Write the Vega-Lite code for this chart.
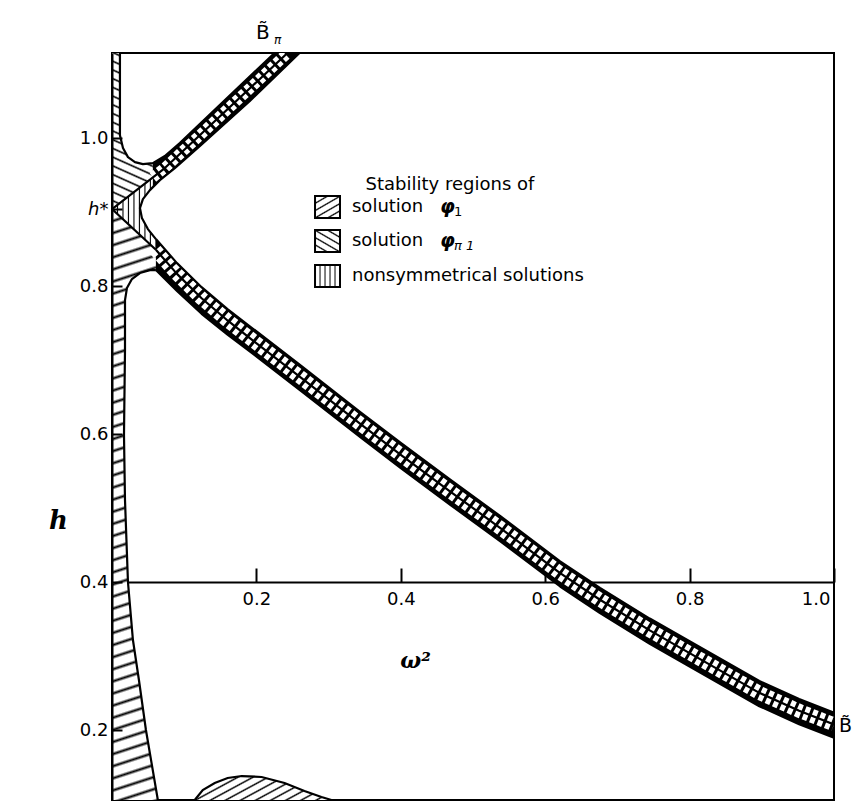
{
  "$schema": "https://vega.github.io/schema/vega-lite/v6.json",
  "width": 722,
  "height": 747,
  "autosize": {"type": "none"},
  "padding": {"left": 112, "top": 53, "right": 24, "bottom": 3},
  "background": "#ffffff",
  "config": {
    "view": {"stroke": "#000000", "strokeWidth": 2},
    "axis": {"grid": false, "domainColor": "#000", "domainWidth": 2, "tickColor": "#000", "tickWidth": 2, "labelColor": "#000", "labelFont": "DejaVu Sans", "labelFontSize": 18, "titleColor": "#000", "labelOverlap": false},
    "text": {"font": "DejaVu Sans", "color": "#000"}
  },
  "datasets": {
    "phiPiLeft": [
      {"i": 1, "w": 0, "h": 1.115},
      {"i": 2, "w": 0, "h": 0.904},
      {"i": 3, "w": 0.0566, "h": 0.9469},
      {"i": 4, "w": 0.0566, "h": 0.9662},
      {"i": 5, "w": 0.0428, "h": 0.9649},
      {"i": 6, "w": 0.0318, "h": 0.9676},
      {"i": 7, "w": 0.0221, "h": 0.9743},
      {"i": 8, "w": 0.0152, "h": 0.9865},
      {"i": 9, "w": 0.011, "h": 1.004},
      {"i": 10, "w": 0.011, "h": 1.115}
    ],
    "nonsymWedge": [
      {"i": 1, "w": 0, "h": 0.904},
      {"i": 2, "w": 0.0566, "h": 0.9469},
      {"i": 3, "w": 0.0566, "h": 0.9337},
      {"i": 4, "w": 0.0525, "h": 0.9297},
      {"i": 5, "w": 0.0428, "h": 0.9176},
      {"i": 6, "w": 0.0387, "h": 0.9054},
      {"i": 7, "w": 0.0414, "h": 0.8919},
      {"i": 8, "w": 0.0497, "h": 0.877},
      {"i": 9, "w": 0.0608, "h": 0.8635},
      {"i": 10, "w": 0.0608, "h": 0.849}
    ],
    "phi1Left": [
      {"i": 1, "w": 0, "h": 0.904},
      {"i": 2, "w": 0.0608, "h": 0.849},
      {"i": 3, "w": 0.0608, "h": 0.8216},
      {"i": 4, "w": 0.0525, "h": 0.8216},
      {"i": 5, "w": 0.0387, "h": 0.8176},
      {"i": 6, "w": 0.0276, "h": 0.8095},
      {"i": 7, "w": 0.0207, "h": 0.7973},
      {"i": 8, "w": 0.018, "h": 0.7811},
      {"i": 9, "w": 0.018, "h": 0.7135},
      {"i": 10, "w": 0.0166, "h": 0.5986},
      {"i": 11, "w": 0.018, "h": 0.5108},
      {"i": 12, "w": 0.0221, "h": 0.4},
      {"i": 13, "w": 0.029, "h": 0.3216},
      {"i": 14, "w": 0.0373, "h": 0.2676},
      {"i": 15, "w": 0.047, "h": 0.2},
      {"i": 16, "w": 0.0635, "h": 0.1054},
      {"i": 17, "w": 0, "h": 0.1054}
    ],
    "phi1Hump": [
      {"w": 0.1146, "h": 0.1054},
      {"w": 0.1257, "h": 0.1189},
      {"w": 0.1423, "h": 0.1284},
      {"w": 0.1602, "h": 0.1351},
      {"w": 0.1796, "h": 0.1378},
      {"w": 0.2072, "h": 0.1365},
      {"w": 0.239, "h": 0.1284},
      {"w": 0.2666, "h": 0.1176},
      {"w": 0.2901, "h": 0.1095},
      {"w": 0.3039, "h": 0.1054}
    ],
    "upperBranch": [
      {"w": 0.0566, "a": 0.9662, "c": 0.9337},
      {"w": 0.0663, "a": 0.9717, "c": 0.9432},
      {"w": 0.0732, "a": 0.9757, "c": 0.9486},
      {"w": 0.087, "a": 0.9873, "c": 0.9595},
      {"w": 0.0939, "a": 0.9932, "c": 0.9654},
      {"w": 0.1215, "a": 1.0188, "c": 0.9892},
      {"w": 0.1906, "a": 1.0829, "c": 1.05},
      {"w": 0.2251, "a": 1.115, "c": 1.0825},
      {"w": 0.2597, "a": 1.115, "c": 1.115}
    ],
    "lowerBranch": [
      {"w": 0.0608, "c": 0.8635, "d": 0.849, "b": 0.8216},
      {"w": 0.09, "c": 0.831, "d": 0.8165, "b": 0.7935},
      {"w": 0.1241, "c": 0.7985, "d": 0.7835, "b": 0.7625},
      {"w": 0.16, "c": 0.769, "d": 0.7535, "b": 0.7345},
      {"w": 0.1931, "c": 0.744, "d": 0.728, "b": 0.71},
      {"w": 0.2621, "c": 0.692, "d": 0.676, "b": 0.658},
      {"w": 0.3448, "c": 0.629, "d": 0.613, "b": 0.595},
      {"w": 0.4, "c": 0.588, "d": 0.572, "b": 0.554},
      {"w": 0.469, "c": 0.538, "d": 0.522, "b": 0.504},
      {"w": 0.5379, "c": 0.489, "d": 0.473, "b": 0.455},
      {"w": 0.6207, "c": 0.428, "d": 0.412, "b": 0.394},
      {"w": 0.6759, "c": 0.392, "d": 0.376, "b": 0.358},
      {"w": 0.7448, "c": 0.3506, "d": 0.3346, "b": 0.3166},
      {"w": 0.8, "c": 0.3199, "d": 0.3039, "b": 0.2859},
      {"w": 0.8966, "c": 0.2662, "d": 0.2502, "b": 0.2322},
      {"w": 0.9517, "c": 0.2419, "d": 0.2259, "b": 0.2079},
      {"w": 1.0, "c": 0.2235, "d": 0.2075, "b": 0.1895}
    ],
    "divider1": [
      {"i": 1, "w": 0, "h": 0.904},
      {"i": 2, "w": 0.0566, "h": 0.9469},
      {"i": 3, "w": 0.0732, "h": 0.9595},
      {"i": 4, "w": 0.2431, "h": 1.115}
    ],
    "boundaries": [
      {"curve": "A", "i": 1, "w": 0.011, "h": 1.115},
      {"curve": "A", "i": 2, "w": 0.011, "h": 1.004},
      {"curve": "A", "i": 3, "w": 0.0152, "h": 0.9865},
      {"curve": "A", "i": 4, "w": 0.0221, "h": 0.9743},
      {"curve": "A", "i": 5, "w": 0.0318, "h": 0.9676},
      {"curve": "A", "i": 6, "w": 0.0428, "h": 0.9649},
      {"curve": "A", "i": 7, "w": 0.0566, "h": 0.9662},
      {"curve": "A", "i": 8, "w": 0.0732, "h": 0.9757},
      {"curve": "A", "i": 9, "w": 0.0939, "h": 0.9932},
      {"curve": "A", "i": 10, "w": 0.2251, "h": 1.115},
      {"curve": "C", "i": 1, "w": 0.2597, "h": 1.115},
      {"curve": "C", "i": 2, "w": 0.1906, "h": 1.05},
      {"curve": "C", "i": 3, "w": 0.1215, "h": 0.9892},
      {"curve": "C", "i": 4, "w": 0.087, "h": 0.9595},
      {"curve": "C", "i": 5, "w": 0.0663, "h": 0.9432},
      {"curve": "C", "i": 6, "w": 0.0525, "h": 0.9297},
      {"curve": "C", "i": 7, "w": 0.0428, "h": 0.9176},
      {"curve": "C", "i": 8, "w": 0.0387, "h": 0.9054},
      {"curve": "C", "i": 9, "w": 0.0414, "h": 0.8919},
      {"curve": "C", "i": 10, "w": 0.0497, "h": 0.877},
      {"curve": "C", "i": 11, "w": 0.0608, "h": 0.8635},
      {"curve": "B", "i": 1, "w": 0.0635, "h": 0.1054},
      {"curve": "B", "i": 2, "w": 0.047, "h": 0.2},
      {"curve": "B", "i": 3, "w": 0.0373, "h": 0.2676},
      {"curve": "B", "i": 4, "w": 0.029, "h": 0.3216},
      {"curve": "B", "i": 5, "w": 0.0221, "h": 0.4},
      {"curve": "B", "i": 6, "w": 0.018, "h": 0.5108},
      {"curve": "B", "i": 7, "w": 0.0166, "h": 0.5986},
      {"curve": "B", "i": 8, "w": 0.018, "h": 0.7135},
      {"curve": "B", "i": 9, "w": 0.018, "h": 0.7811},
      {"curve": "B", "i": 10, "w": 0.0207, "h": 0.7973},
      {"curve": "B", "i": 11, "w": 0.0276, "h": 0.8095},
      {"curve": "B", "i": 12, "w": 0.0387, "h": 0.8176},
      {"curve": "B", "i": 13, "w": 0.0525, "h": 0.8216},
      {"curve": "B", "i": 14, "w": 0.0608, "h": 0.8216},
      {"curve": "D1", "i": 1, "w": 0, "h": 0.904},
      {"curve": "D1", "i": 2, "w": 0.0732, "h": 0.9595},
      {"curve": "D1", "i": 3, "w": 0.2431, "h": 1.115},
      {"curve": "D2", "i": 1, "w": 0, "h": 0.904},
      {"curve": "D2", "i": 2, "w": 0.0608, "h": 0.849}
    ]
  },
  "layer": [
    {
      "encoding": {
        "x": {
          "field": "w", "type": "quantitative",
          "scale": {"domain": [0, 1.0], "nice": false, "zero": false},
          "axis": {
            "orient": "bottom", "offset": -218,
            "values": [0.2, 0.4, 0.6, 0.8, 1.0], "format": ".1f",
            "tickSize": -14, "labelPadding": 22, "labelFlush": 5, "labelFlushOffset": -4,
            "title": "ω²", "titleFont": "DejaVu Serif", "titleFontSize": 22, "titleFontStyle": "italic", "titleFontWeight": "bold",
            "titleX": 303, "titleY": 78, "titleAlign": "center", "titleBaseline": "middle",
            "zindex": 0
          }
        },
        "y": {
          "field": "h", "type": "quantitative",
          "scale": {"domain": [0.1054, 1.115], "nice": false, "zero": false},
          "axis": {
            "orient": "left",
            "values": [0.2, 0.4, 0.6, 0.8, 0.904, 1.0],
            "labelExpr": "datum.value == 0.904 ? 'h*' : format(datum.value, '.1f')",
            "labelFontStyle": {"condition": {"test": "datum.value == 0.904", "value": "italic"}, "value": "normal"},
            "tickSize": -10, "labelPadding": 14, "labelFlush": false,
            "title": "h", "titleFont": "DejaVu Serif", "titleFontSize": 26, "titleFontStyle": "italic", "titleFontWeight": "bold",
            "titleAngle": 0, "titleX": -54, "titleY": 467, "titleAlign": "center", "titleBaseline": "middle",
            "zindex": 1
          }
        }
      },
      "layer": [
        {
          "data": {"name": "phi1Hump"},
          "mark": {"type": "area", "fill": {"gradient": "linear", "x1": 0, "y1": 0, "x2": 1.2, "y2": 0.39, "stops": [
            {"offset": 0, "color": "#000"}, {"offset": 0.0167, "color": "#fff"}, {"offset": 0.0667, "color": "#fff"},
            {"offset": 0.0833, "color": "#000"}, {"offset": 0.1, "color": "#fff"}, {"offset": 0.15, "color": "#fff"},
            {"offset": 0.1667, "color": "#000"}, {"offset": 0.1833, "color": "#fff"}, {"offset": 0.2333, "color": "#fff"},
            {"offset": 0.25, "color": "#000"}, {"offset": 0.2667, "color": "#fff"}, {"offset": 0.3167, "color": "#fff"},
            {"offset": 0.3333, "color": "#000"}, {"offset": 0.35, "color": "#fff"}, {"offset": 0.4, "color": "#fff"},
            {"offset": 0.4167, "color": "#000"}, {"offset": 0.4333, "color": "#fff"}, {"offset": 0.4833, "color": "#fff"},
            {"offset": 0.5, "color": "#000"}, {"offset": 0.5167, "color": "#fff"}, {"offset": 0.5667, "color": "#fff"},
            {"offset": 0.5833, "color": "#000"}, {"offset": 0.6, "color": "#fff"}, {"offset": 0.65, "color": "#fff"},
            {"offset": 0.6667, "color": "#000"}, {"offset": 0.6833, "color": "#fff"}, {"offset": 0.7333, "color": "#fff"},
            {"offset": 0.75, "color": "#000"}, {"offset": 0.7667, "color": "#fff"}, {"offset": 0.8167, "color": "#fff"},
            {"offset": 0.8333, "color": "#000"}, {"offset": 0.85, "color": "#fff"}, {"offset": 0.9, "color": "#fff"},
            {"offset": 0.9167, "color": "#000"}, {"offset": 0.9333, "color": "#fff"}, {"offset": 0.9833, "color": "#fff"},
            {"offset": 1, "color": "#000"}]}},
          "encoding": {"y2": {"datum": 0.1054}}
        },
        {
          "data": {"name": "phi1Left"},
          "mark": {"type": "line", "strokeWidth": 0, "fill": {"gradient": "linear", "x1": 0, "y1": 0, "x2": 0.0259, "y2": 1.0246, "stops": [
            {"offset": 0, "color": "#000"}, {"offset": 0.004, "color": "#fff"}, {"offset": 0.016, "color": "#fff"},
            {"offset": 0.02, "color": "#000"}, {"offset": 0.024, "color": "#fff"}, {"offset": 0.036, "color": "#fff"},
            {"offset": 0.04, "color": "#000"}, {"offset": 0.044, "color": "#fff"}, {"offset": 0.056, "color": "#fff"},
            {"offset": 0.06, "color": "#000"}, {"offset": 0.064, "color": "#fff"}, {"offset": 0.076, "color": "#fff"},
            {"offset": 0.08, "color": "#000"}, {"offset": 0.084, "color": "#fff"}, {"offset": 0.096, "color": "#fff"},
            {"offset": 0.1, "color": "#000"}, {"offset": 0.104, "color": "#fff"}, {"offset": 0.116, "color": "#fff"},
            {"offset": 0.12, "color": "#000"}, {"offset": 0.124, "color": "#fff"}, {"offset": 0.136, "color": "#fff"},
            {"offset": 0.14, "color": "#000"}, {"offset": 0.144, "color": "#fff"}, {"offset": 0.156, "color": "#fff"},
            {"offset": 0.16, "color": "#000"}, {"offset": 0.164, "color": "#fff"}, {"offset": 0.176, "color": "#fff"},
            {"offset": 0.18, "color": "#000"}, {"offset": 0.184, "color": "#fff"}, {"offset": 0.196, "color": "#fff"},
            {"offset": 0.2, "color": "#000"}, {"offset": 0.204, "color": "#fff"}, {"offset": 0.216, "color": "#fff"},
            {"offset": 0.22, "color": "#000"}, {"offset": 0.224, "color": "#fff"}, {"offset": 0.236, "color": "#fff"},
            {"offset": 0.24, "color": "#000"}, {"offset": 0.244, "color": "#fff"}, {"offset": 0.256, "color": "#fff"},
            {"offset": 0.26, "color": "#000"}, {"offset": 0.264, "color": "#fff"}, {"offset": 0.276, "color": "#fff"},
            {"offset": 0.28, "color": "#000"}, {"offset": 0.284, "color": "#fff"}, {"offset": 0.296, "color": "#fff"},
            {"offset": 0.3, "color": "#000"}, {"offset": 0.304, "color": "#fff"}, {"offset": 0.316, "color": "#fff"},
            {"offset": 0.32, "color": "#000"}, {"offset": 0.324, "color": "#fff"}, {"offset": 0.336, "color": "#fff"},
            {"offset": 0.34, "color": "#000"}, {"offset": 0.344, "color": "#fff"}, {"offset": 0.356, "color": "#fff"},
            {"offset": 0.36, "color": "#000"}, {"offset": 0.364, "color": "#fff"}, {"offset": 0.376, "color": "#fff"},
            {"offset": 0.38, "color": "#000"}, {"offset": 0.384, "color": "#fff"}, {"offset": 0.396, "color": "#fff"},
            {"offset": 0.4, "color": "#000"}, {"offset": 0.404, "color": "#fff"}, {"offset": 0.416, "color": "#fff"},
            {"offset": 0.42, "color": "#000"}, {"offset": 0.424, "color": "#fff"}, {"offset": 0.436, "color": "#fff"},
            {"offset": 0.44, "color": "#000"}, {"offset": 0.444, "color": "#fff"}, {"offset": 0.456, "color": "#fff"},
            {"offset": 0.46, "color": "#000"}, {"offset": 0.464, "color": "#fff"}, {"offset": 0.476, "color": "#fff"},
            {"offset": 0.48, "color": "#000"}, {"offset": 0.484, "color": "#fff"}, {"offset": 0.496, "color": "#fff"},
            {"offset": 0.5, "color": "#000"}, {"offset": 0.504, "color": "#fff"}, {"offset": 0.516, "color": "#fff"},
            {"offset": 0.52, "color": "#000"}, {"offset": 0.524, "color": "#fff"}, {"offset": 0.536, "color": "#fff"},
            {"offset": 0.54, "color": "#000"}, {"offset": 0.544, "color": "#fff"}, {"offset": 0.556, "color": "#fff"},
            {"offset": 0.56, "color": "#000"}, {"offset": 0.564, "color": "#fff"}, {"offset": 0.576, "color": "#fff"},
            {"offset": 0.58, "color": "#000"}, {"offset": 0.584, "color": "#fff"}, {"offset": 0.596, "color": "#fff"},
            {"offset": 0.6, "color": "#000"}, {"offset": 0.604, "color": "#fff"}, {"offset": 0.616, "color": "#fff"},
            {"offset": 0.62, "color": "#000"}, {"offset": 0.624, "color": "#fff"}, {"offset": 0.636, "color": "#fff"},
            {"offset": 0.64, "color": "#000"}, {"offset": 0.644, "color": "#fff"}, {"offset": 0.656, "color": "#fff"},
            {"offset": 0.66, "color": "#000"}, {"offset": 0.664, "color": "#fff"}, {"offset": 0.676, "color": "#fff"},
            {"offset": 0.68, "color": "#000"}, {"offset": 0.684, "color": "#fff"}, {"offset": 0.696, "color": "#fff"},
            {"offset": 0.7, "color": "#000"}, {"offset": 0.704, "color": "#fff"}, {"offset": 0.716, "color": "#fff"},
            {"offset": 0.72, "color": "#000"}, {"offset": 0.724, "color": "#fff"}, {"offset": 0.736, "color": "#fff"},
            {"offset": 0.74, "color": "#000"}, {"offset": 0.744, "color": "#fff"}, {"offset": 0.756, "color": "#fff"},
            {"offset": 0.76, "color": "#000"}, {"offset": 0.764, "color": "#fff"}, {"offset": 0.776, "color": "#fff"},
            {"offset": 0.78, "color": "#000"}, {"offset": 0.784, "color": "#fff"}, {"offset": 0.796, "color": "#fff"},
            {"offset": 0.8, "color": "#000"}, {"offset": 0.804, "color": "#fff"}, {"offset": 0.816, "color": "#fff"},
            {"offset": 0.82, "color": "#000"}, {"offset": 0.824, "color": "#fff"}, {"offset": 0.836, "color": "#fff"},
            {"offset": 0.84, "color": "#000"}, {"offset": 0.844, "color": "#fff"}, {"offset": 0.856, "color": "#fff"},
            {"offset": 0.86, "color": "#000"}, {"offset": 0.864, "color": "#fff"}, {"offset": 0.876, "color": "#fff"},
            {"offset": 0.88, "color": "#000"}, {"offset": 0.884, "color": "#fff"}, {"offset": 0.896, "color": "#fff"},
            {"offset": 0.9, "color": "#000"}, {"offset": 0.904, "color": "#fff"}, {"offset": 0.916, "color": "#fff"},
            {"offset": 0.92, "color": "#000"}, {"offset": 0.924, "color": "#fff"}, {"offset": 0.936, "color": "#fff"},
            {"offset": 0.94, "color": "#000"}, {"offset": 0.944, "color": "#fff"}, {"offset": 0.956, "color": "#fff"},
            {"offset": 0.96, "color": "#000"}, {"offset": 0.964, "color": "#fff"}, {"offset": 0.976, "color": "#fff"},
            {"offset": 0.98, "color": "#000"}, {"offset": 0.984, "color": "#fff"}, {"offset": 0.996, "color": "#fff"},
            {"offset": 1, "color": "#000"}]}},
          "encoding": {"order": {"field": "i"}}
        },
        {
          "data": {"name": "phiPiLeft"},
          "mark": {"type": "line", "strokeWidth": 0, "fill": {"gradient": "linear", "x1": 1, "y1": 0, "x2": 0.871, "y2": 1.102, "stops": [
            {"offset": 0, "color": "#000"}, {"offset": 0.01, "color": "#fff"}, {"offset": 0.04, "color": "#fff"},
            {"offset": 0.05, "color": "#000"}, {"offset": 0.06, "color": "#fff"}, {"offset": 0.09, "color": "#fff"},
            {"offset": 0.1, "color": "#000"}, {"offset": 0.11, "color": "#fff"}, {"offset": 0.14, "color": "#fff"},
            {"offset": 0.15, "color": "#000"}, {"offset": 0.16, "color": "#fff"}, {"offset": 0.19, "color": "#fff"},
            {"offset": 0.2, "color": "#000"}, {"offset": 0.21, "color": "#fff"}, {"offset": 0.24, "color": "#fff"},
            {"offset": 0.25, "color": "#000"}, {"offset": 0.26, "color": "#fff"}, {"offset": 0.29, "color": "#fff"},
            {"offset": 0.3, "color": "#000"}, {"offset": 0.31, "color": "#fff"}, {"offset": 0.34, "color": "#fff"},
            {"offset": 0.35, "color": "#000"}, {"offset": 0.36, "color": "#fff"}, {"offset": 0.39, "color": "#fff"},
            {"offset": 0.4, "color": "#000"}, {"offset": 0.41, "color": "#fff"}, {"offset": 0.44, "color": "#fff"},
            {"offset": 0.45, "color": "#000"}, {"offset": 0.46, "color": "#fff"}, {"offset": 0.49, "color": "#fff"},
            {"offset": 0.5, "color": "#000"}, {"offset": 0.51, "color": "#fff"}, {"offset": 0.54, "color": "#fff"},
            {"offset": 0.55, "color": "#000"}, {"offset": 0.56, "color": "#fff"}, {"offset": 0.59, "color": "#fff"},
            {"offset": 0.6, "color": "#000"}, {"offset": 0.61, "color": "#fff"}, {"offset": 0.64, "color": "#fff"},
            {"offset": 0.65, "color": "#000"}, {"offset": 0.66, "color": "#fff"}, {"offset": 0.69, "color": "#fff"},
            {"offset": 0.7, "color": "#000"}, {"offset": 0.71, "color": "#fff"}, {"offset": 0.74, "color": "#fff"},
            {"offset": 0.75, "color": "#000"}, {"offset": 0.76, "color": "#fff"}, {"offset": 0.79, "color": "#fff"},
            {"offset": 0.8, "color": "#000"}, {"offset": 0.81, "color": "#fff"}, {"offset": 0.84, "color": "#fff"},
            {"offset": 0.85, "color": "#000"}, {"offset": 0.86, "color": "#fff"}, {"offset": 0.89, "color": "#fff"},
            {"offset": 0.9, "color": "#000"}, {"offset": 0.91, "color": "#fff"}, {"offset": 0.94, "color": "#fff"},
            {"offset": 0.95, "color": "#000"}, {"offset": 0.96, "color": "#fff"}, {"offset": 0.99, "color": "#fff"},
            {"offset": 1, "color": "#000"}]}},
          "encoding": {"order": {"field": "i"}}
        },
        {
          "data": {"name": "nonsymWedge"},
          "mark": {"type": "line", "strokeWidth": 0, "fill": {"gradient": "linear", "x1": 0, "y1": 0, "x2": 1, "y2": 0, "stops": [
            {"offset": 0, "color": "#000"}, {"offset": 0.025, "color": "#fff"}, {"offset": 0.1, "color": "#fff"},
            {"offset": 0.125, "color": "#000"}, {"offset": 0.15, "color": "#fff"}, {"offset": 0.225, "color": "#fff"},
            {"offset": 0.25, "color": "#000"}, {"offset": 0.275, "color": "#fff"}, {"offset": 0.35, "color": "#fff"},
            {"offset": 0.375, "color": "#000"}, {"offset": 0.4, "color": "#fff"}, {"offset": 0.475, "color": "#fff"},
            {"offset": 0.5, "color": "#000"}, {"offset": 0.525, "color": "#fff"}, {"offset": 0.6, "color": "#fff"},
            {"offset": 0.625, "color": "#000"}, {"offset": 0.65, "color": "#fff"}, {"offset": 0.725, "color": "#fff"},
            {"offset": 0.75, "color": "#000"}, {"offset": 0.775, "color": "#fff"}, {"offset": 0.85, "color": "#fff"},
            {"offset": 0.875, "color": "#000"}, {"offset": 0.9, "color": "#fff"}, {"offset": 0.975, "color": "#fff"},
            {"offset": 1, "color": "#000"}]}},
          "encoding": {"order": {"field": "i"}}
        },
        {
          "data": {"name": "upperBranch"},
          "mark": {"type": "area", "color": "#000"},
          "encoding": {"y": {"field": "a", "type": "quantitative"}, "y2": {"field": "c"}}
        },
        {
          "data": {"name": "lowerBranch"},
          "mark": {"type": "area", "color": "#000"},
          "encoding": {"y": {"field": "c", "type": "quantitative"}, "y2": {"field": "b"}}
        },
        {
          "data": {"name": "divider1"},
          "transform": [{"filter": "datum.w >= 0.056"}],
          "mark": {"type": "line", "stroke": "#fff", "strokeWidth": 11, "strokeDash": [5, 3], "strokeCap": "butt", "clip": true},
          "encoding": {"order": {"field": "i"}}
        },
        {
          "data": {"name": "lowerBranch"},
          "mark": {"type": "line", "stroke": "#fff", "strokeWidth": 14, "strokeDash": [5, 3], "strokeCap": "butt", "clip": true},
          "encoding": {"y": {"field": "d", "type": "quantitative"}}
        },
        {
          "data": {"name": "boundaries"},
          "mark": {"type": "line", "stroke": "#000", "strokeWidth": 2.2, "strokeJoin": "round", "clip": true},
          "encoding": {"detail": {"field": "curve"}, "order": {"field": "i"}}
        },
        {
          "data": {"name": "lowerBranch"},
          "transform": [{"fold": ["c", "d", "b"], "as": ["edge", "h"]}],
          "mark": {"type": "line", "stroke": "#000", "strokeWidth": 2.2, "strokeJoin": "round", "clip": true},
          "encoding": {"detail": {"field": "edge"}}
        },
        {
          "data": {"name": "phi1Hump"},
          "mark": {"type": "line", "stroke": "#000", "strokeWidth": 2.2}
        }
      ]
    },
    {
      "data": {"values": [{}]},
      "mark": {"type": "rect", "stroke": "#000", "strokeWidth": 2, "fill": {"gradient": "linear", "x1": 0, "y1": 0, "x2": 0.76, "y2": 1.158, "stops": [
        {"offset": 0, "color": "#000"}, {"offset": 0.04, "color": "#fff"}, {"offset": 0.16, "color": "#fff"},
        {"offset": 0.2, "color": "#000"}, {"offset": 0.24, "color": "#fff"}, {"offset": 0.36, "color": "#fff"},
        {"offset": 0.4, "color": "#000"}, {"offset": 0.44, "color": "#fff"}, {"offset": 0.56, "color": "#fff"},
        {"offset": 0.6, "color": "#000"}, {"offset": 0.64, "color": "#fff"}, {"offset": 0.76, "color": "#fff"},
        {"offset": 0.8, "color": "#000"}, {"offset": 0.84, "color": "#fff"}, {"offset": 0.96, "color": "#fff"},
        {"offset": 1, "color": "#000"}]}},
      "encoding": {"x": {"datum": 0.2812}, "x2": {"datum": 0.3158}, "y": {"datum": 0.9216}, "y2": {"datum": 0.8919}}
    },
    {
      "data": {"values": [{}]},
      "mark": {"type": "rect", "stroke": "#000", "strokeWidth": 2, "fill": {"gradient": "linear", "x1": 1, "y1": 0, "x2": 0.24, "y2": 1.158, "stops": [
        {"offset": 0, "color": "#000"}, {"offset": 0.04, "color": "#fff"}, {"offset": 0.16, "color": "#fff"},
        {"offset": 0.2, "color": "#000"}, {"offset": 0.24, "color": "#fff"}, {"offset": 0.36, "color": "#fff"},
        {"offset": 0.4, "color": "#000"}, {"offset": 0.44, "color": "#fff"}, {"offset": 0.56, "color": "#fff"},
        {"offset": 0.6, "color": "#000"}, {"offset": 0.64, "color": "#fff"}, {"offset": 0.76, "color": "#fff"},
        {"offset": 0.8, "color": "#000"}, {"offset": 0.84, "color": "#fff"}, {"offset": 0.96, "color": "#fff"},
        {"offset": 1, "color": "#000"}]}},
      "encoding": {"x": {"datum": 0.2812}, "x2": {"datum": 0.3158}, "y": {"datum": 0.8757}, "y2": {"datum": 0.8459}}
    },
    {
      "data": {"values": [{}]},
      "mark": {"type": "rect", "stroke": "#000", "strokeWidth": 2, "fill": {"gradient": "linear", "x1": 0, "y1": 0, "x2": 1, "y2": 0, "stops": [
        {"offset": 0, "color": "#000"}, {"offset": 0.04, "color": "#fff"}, {"offset": 0.16, "color": "#fff"},
        {"offset": 0.2, "color": "#000"}, {"offset": 0.24, "color": "#fff"}, {"offset": 0.36, "color": "#fff"},
        {"offset": 0.4, "color": "#000"}, {"offset": 0.44, "color": "#fff"}, {"offset": 0.56, "color": "#fff"},
        {"offset": 0.6, "color": "#000"}, {"offset": 0.64, "color": "#fff"}, {"offset": 0.76, "color": "#fff"},
        {"offset": 0.8, "color": "#000"}, {"offset": 0.84, "color": "#fff"}, {"offset": 0.96, "color": "#fff"},
        {"offset": 1, "color": "#000"}]}},
      "encoding": {"x": {"datum": 0.2812}, "x2": {"datum": 0.3158}, "y": {"datum": 0.8284}, "y2": {"datum": 0.7986}}
    },
    {
      "data": {"values": [{}]},
      "mark": {"type": "text", "text": "Stability regions of", "fontSize": 18, "align": "center", "baseline": "middle"},
      "encoding": {"x": {"datum": 0.4681}, "y": {"datum": 0.9365}}
    },
    {
      "data": {"values": [{}]},
      "mark": {"type": "text", "text": "solution", "fontSize": 18, "align": "left", "baseline": "middle"},
      "encoding": {"x": {"datum": 0.3324}, "y": {"datum": 0.9068}}
    },
    {
      "data": {"values": [{}]},
      "mark": {"type": "text", "text": "solution", "fontSize": 18, "align": "left", "baseline": "middle"},
      "encoding": {"x": {"datum": 0.3324}, "y": {"datum": 0.8608}}
    },
    {
      "data": {"values": [{}]},
      "mark": {"type": "text", "text": "nonsymmetrical solutions", "fontSize": 18, "align": "left", "baseline": "middle"},
      "encoding": {"x": {"datum": 0.3324}, "y": {"datum": 0.8135}}
    },
    {
      "data": {"values": [{}]},
      "mark": {"type": "text", "text": "φ", "fontSize": 19, "fontStyle": "italic", "fontWeight": "bold", "align": "left", "baseline": "middle"},
      "encoding": {"x": {"datum": 0.4543}, "y": {"datum": 0.9068}}
    },
    {
      "data": {"values": [{}]},
      "mark": {"type": "text", "text": "1", "fontSize": 13, "align": "left", "baseline": "middle"},
      "encoding": {"x": {"datum": 0.4737}, "y": {"datum": 0.9}}
    },
    {
      "data": {"values": [{}]},
      "mark": {"type": "text", "text": "φ", "fontSize": 19, "fontStyle": "italic", "fontWeight": "bold", "align": "left", "baseline": "middle"},
      "encoding": {"x": {"datum": 0.4543}, "y": {"datum": 0.8608}}
    },
    {
      "data": {"values": [{}]},
      "mark": {"type": "text", "text": "π 1", "fontSize": 13, "fontStyle": "italic", "align": "left", "baseline": "middle"},
      "encoding": {"x": {"datum": 0.4737}, "y": {"datum": 0.854}}
    },
    {
      "data": {"values": [{}]},
      "mark": {"type": "text", "text": "B̃", "fontSize": 20, "align": "center", "baseline": "middle"},
      "encoding": {"x": {"datum": 0.2091}, "y": {"datum": 1.1419}}
    },
    {
      "data": {"values": [{}]},
      "mark": {"type": "text", "text": "π", "fontSize": 12, "fontStyle": "italic", "align": "left", "baseline": "middle"},
      "encoding": {"x": {"datum": 0.2244}, "y": {"datum": 1.1324}}
    },
    {
      "data": {"values": [{}]},
      "mark": {"type": "text", "text": "B̃", "fontSize": 19, "align": "left", "baseline": "middle"},
      "encoding": {"x": {"datum": 1.0069}, "y": {"datum": 0.2054}}
    }
  ]
}
